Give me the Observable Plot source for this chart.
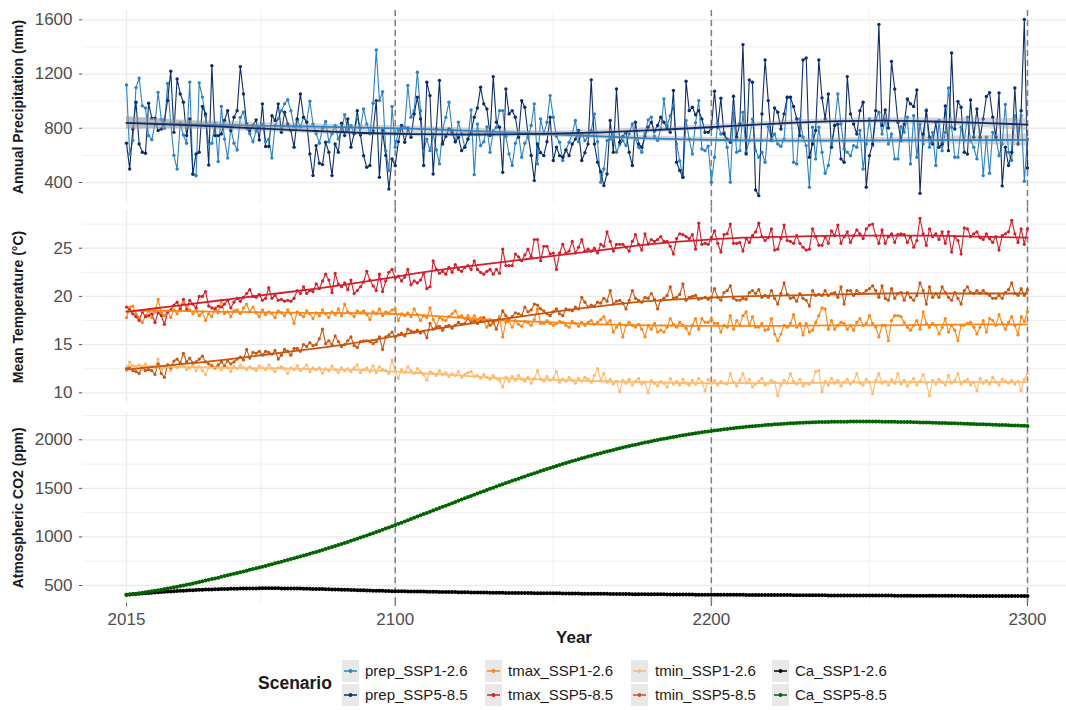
<!DOCTYPE html>
<html><head><meta charset="utf-8">
<script src="https://cdn.jsdelivr.net/npm/d3@7"></script>
<script src="https://cdn.jsdelivr.net/npm/@observablehq/plot@0.6"></script>
<style>
body{margin:0;background:#fff;font-family:"Liberation Sans",Arial,Helvetica,sans-serif;}
#wrap{position:relative;width:1066px;height:710px;overflow:hidden;background:#fff;}
#wrap svg{position:absolute;left:0;overflow:visible;}
.lab{position:absolute;white-space:nowrap;color:#1a1a1a;}
.key{position:absolute;width:17px;height:22px;background:#e8e8e8;}
</style></head><body><div id="wrap"></div>
<script>
// ---------------- DATA (yearly, 2015-2300) ----------------
const years = d3.range(2015, 2301);

const prep_SSP1 = [
1120,610,710,1100,1170,965,950,745,715,830,
1065,865,800,1130,835,600,500,840,750,690,
1140,460,450,1135,1030,890,680,690,840,555,
960,720,580,800,690,640,880,920,800,760,
700,780,810,830,700,720,580,820,870,930,
980,1010,930,810,860,810,880,850,1000,830,
760,690,800,850,700,760,820,720,780,900,
780,820,760,880,800,943,832,760,984,1378,
1004,1070,635,488,960,660,783,820,807,1115,
881,930,1213,930,635,720,635,758,640,537,
795,880,992,783,700,844,760,660,720,935,
458,832,672,700,810,623,780,807,930,930,
740,610,525,690,758,586,690,734,820,980,
537,869,760,844,1041,881,740,697,562,640,
697,760,857,700,758,709,740,783,906,700,
402,500,709,720,758,623,680,709,672,760,
832,720,660,623,760,862,881,740,709,795,
1016,820,893,967,684,560,439,857,720,610,
840,1004,647,635,667,402,586,837,758,770,
660,402,930,623,635,918,623,709,869,635,
586,623,549,812,721,758,684,667,721,1029,
1029,549,537,869,734,672,365,807,574,807,
623,468,525,684,820,1053,832,647,623,598,
672,660,783,500,684,869,672,869,918,758,
869,684,758,574,574,812,770,881,537,893,
586,832,684,935,660,770,525,857,635,770,
1097,807,586,586,807,709,881,709,660,574,
770,451,734,468,770,734,598,684,975,623,
562,893,780,893,410,720];

const prep_SSP5 = [
690,500,795,992,684,623,616,984,874,874,
783,795,862,1004,1220,770,1164,1053,992,746,
869,463,611,623,960,906,529,1262,746,746,
758,857,930,783,881,930,1255,1053,832,783,
820,862,714,980,665,665,893,857,980,770,
918,832,783,660,869,1053,881,844,611,451,
672,542,532,697,623,451,684,623,837,746,
869,660,760,930,750,598,512,525,780,1004,
439,783,600,352,574,525,700,820,697,800,
734,906,1029,869,525,1139,1041,463,795,1152,
684,740,795,770,700,734,635,660,720,770,
881,950,1102,980,943,746,1181,844,807,475,
1090,906,930,881,734,1004,955,758,600,414,
684,620,598,700,881,562,660,598,586,640,
598,684,720,783,562,620,684,1157,684,549,
480,377,463,857,623,1090,697,740,770,623,
525,844,684,660,740,807,844,780,820,881,
844,800,770,1078,549,488,439,1147,930,955,
900,930,869,770,770,800,1073,807,1021,758,
720,697,1036,734,832,1417,610,1157,1139,345,
303,906,1304,1004,709,950,918,795,906,1029,
1029,960,869,746,1304,1319,586,684,783,1304,
1024,869,1053,660,820,832,574,549,1181,906,
832,758,930,992,365,598,684,930,1565,820,
935,802,1292,1090,844,709,832,1016,980,960,
1083,320,758,930,734,684,844,660,684,965,
635,1356,795,997,955,623,610,1009,734,943,
734,869,1034,1063,881,734,1061,375,660,525,
623,1097,684,930,1602,507];

const tmax_SSP1 = [
17.8,18.9,19.0,18.2,17.8,17.3,18.0,18.5,17.8,18.4,
19.7,18.3,18.0,18.5,17.8,18.6,18.2,18.8,19.4,18.9,
18.6,18.2,18.5,18.0,18.4,17.5,18.2,17.9,18.8,18.3,
19.6,18.2,18.4,17.9,18.5,18.6,18.2,18.8,19.2,18.4,
18.9,18.3,17.9,18.6,18.1,18.4,18.2,17.8,18.5,18.3,
18.0,18.6,18.2,17.2,18.4,18.1,17.9,18.5,18.2,17.7,
18.3,18.0,18.6,18.2,17.8,18.4,18.1,18.7,18.0,19.2,
18.4,18.2,17.9,18.5,18.3,18.5,18.1,17.6,18.4,18.2,
18.7,18.0,18.4,18.3,18.6,18.7,17.5,18.2,18.0,18.3,
17.9,18.7,18.1,17.5,18.0,17.8,18.8,17.6,17.0,17.8,
17.6,17.5,17.9,18.2,18.5,17.9,18.0,17.7,18.0,17.6,
18.0,17.5,17.8,17.4,16.8,17.6,17.2,17.5,17.9,15.8,
17.3,17.4,16.8,17.5,17.1,16.9,17.4,17.3,17.0,17.6,
18.7,17.2,17.2,17.5,17.2,17.0,17.2,17.4,17.3,17.0,
16.8,17.4,17.2,16.9,17.3,17.0,17.3,17.5,17.1,17.3,
17.6,17.9,17.2,17.5,16.3,16.8,17.2,15.8,17.0,17.3,
17.0,16.8,17.1,16.6,15.8,17.0,16.6,17.2,16.3,16.5,
16.3,16.8,17.7,17.1,16.8,17.3,17.0,16.7,16.1,17.0,
17.7,16.6,17.7,17.3,17.3,17.7,17.2,17.2,16.3,17.0,
16.8,18.0,16.6,17.5,17.0,18.0,18.4,17.0,17.9,16.8,
16.8,17.2,16.5,16.6,17.7,16.1,15.4,16.1,17.0,16.8,
17.2,18.1,16.8,17.2,16.0,17.2,16.3,16.5,17.3,18.0,
18.8,18.7,16.6,17.5,16.6,17.0,17.3,17.2,16.6,17.0,
16.5,17.3,17.7,17.0,17.2,18.0,17.2,16.8,15.8,17.0,
17.0,15.4,17.5,18.0,18.0,17.9,17.3,16.8,16.5,17.0,
17.5,16.6,18.4,17.2,16.8,17.2,17.0,16.1,16.8,17.7,
16.3,17.0,16.5,15.4,17.0,17.0,17.2,17.3,16.8,16.1,
16.8,17.5,16.3,17.7,17.5,17.0,18.1,17.2,16.6,17.3,
17.9,17.0,16.0,17.9,17.4,18.4];

const tmax_SSP5 = [
18.9,18.6,18.2,17.9,17.5,18.4,17.9,18.0,18.2,17.3,
18.3,18.0,17.1,18.4,18.6,19.1,19.4,18.7,19.7,18.6,
19.6,19.2,18.8,20.0,20.0,20.5,19.0,18.8,18.7,19.0,
18.9,19.2,19.6,18.8,19.4,19.8,19.5,19.9,20.3,20.7,
20.0,19.9,20.2,19.6,19.8,20.9,19.8,20.1,19.6,19.7,
19.5,19.6,19.5,19.8,20.6,20.3,21.0,20.3,20.6,20.5,
21.3,20.8,21.6,22.3,21.7,20.4,22.4,21.3,21.0,21.4,
20.7,21.7,20.3,20.6,21.0,21.5,22.6,21.7,21.1,20.6,
22.3,20.5,21.6,22.5,22.8,21.9,22.1,21.6,22.0,22.8,
21.2,21.6,21.4,21.7,22.4,20.8,21.0,23.7,22.8,22.4,
22.6,22.3,23.0,22.5,23.3,22.8,22.6,23.0,23.2,22.8,
23.7,22.8,22.5,22.3,22.6,22.8,22.3,22.8,22.4,24.9,
23.2,23.2,23.2,24.4,24.1,23.7,24.3,24.9,24.1,25.9,
25.9,23.7,25.2,25.2,24.4,24.5,22.8,24.5,25.4,24.5,
24.7,25.7,24.5,25.1,25.9,24.7,24.9,24.7,25.0,24.5,
25.4,25.2,26.7,25.7,24.7,25.4,25.4,25.4,25.1,24.7,
25.7,26.4,25.4,24.8,26.5,25.4,25.9,25.7,25.9,26.2,
25.7,25.7,25.2,24.4,26.0,26.5,26.4,26.2,26.0,26.4,
24.9,27.6,25.4,25.5,25.4,26.1,26.8,25.5,24.6,26.4,
26.5,27.5,25.5,25.5,25.6,24.7,26.0,25.6,26.3,26.7,
27.6,26.2,25.8,26.1,27.0,24.8,24.9,26.0,27.4,25.8,
25.7,25.5,26.3,25.5,25.1,24.8,24.9,27.0,26.2,25.3,
25.3,26.2,25.5,26.8,26.3,27.4,25.5,26.2,26.7,25.6,
26.3,26.9,26.5,26.0,27.0,27.4,27.5,26.3,25.5,26.9,
25.5,26.2,26.5,25.6,26.4,26.5,26.4,25.6,26.2,25.1,
25.8,28.1,26.5,25.3,27.0,26.2,26.5,25.9,26.7,25.5,
26.7,24.6,26.2,25.8,24.4,27.1,27.0,26.2,26.5,26.7,
26.1,25.9,26.5,26.0,25.6,26.2,24.8,26.3,26.5,26.7,
27.9,26.5,25.6,27.0,25.4,27.0];

const tmin_SSP1 = [
12.3,13.2,12.8,12.6,12.9,12.4,13.0,12.5,12.7,12.6,
13.5,12.4,12.6,12.9,12.3,12.8,12.6,13.0,12.8,12.4,
12.6,12.9,12.3,12.7,12.3,11.9,12.6,12.9,12.5,12.8,
12.4,12.9,12.6,12.2,12.8,12.5,12.9,12.6,12.4,12.7,
12.5,12.3,12.8,12.6,12.4,12.9,12.5,12.2,12.6,12.7,
12.5,12.0,12.6,12.4,12.8,12.3,12.5,12.9,12.2,12.6,
12.4,12.6,12.0,12.5,12.3,12.8,12.4,12.1,12.6,12.3,
12.5,12.2,12.6,12.9,12.1,12.4,12.6,12.2,12.8,12.1,
12.7,12.4,12.3,12.0,13.4,12.3,11.5,12.4,12.1,12.7,
12.3,12.0,12.5,12.2,11.9,11.3,12.2,12.0,11.8,12.3,
11.9,12.1,11.7,12.0,11.8,12.2,11.6,11.9,12.1,12.2,
11.7,11.8,11.5,11.9,11.6,11.4,11.8,11.5,11.3,10.6,
11.6,11.2,11.7,11.3,11.8,11.4,11.2,11.6,11.0,11.5,
12.3,11.4,11.2,11.7,11.3,11.5,12.2,11.1,11.4,11.2,
11.6,11.3,11.0,11.5,11.2,11.6,11.4,11.1,11.8,12.5,
11.3,12.0,11.1,11.4,10.9,11.2,10.1,11.3,11.0,11.4,
10.8,11.2,11.5,10.9,11.1,10.0,11.3,11.0,10.7,11.2,
11.0,10.6,11.5,10.9,11.2,10.8,11.4,11.0,10.8,11.3,
10.9,11.5,11.1,10.2,11.4,11.0,11.3,10.8,11.2,11.0,
10.9,12.0,11.1,10.7,11.3,12.0,11.0,11.4,10.6,10.9,
11.2,11.5,10.8,11.0,11.3,11.1,9.7,10.8,11.3,11.0,
12.0,11.2,10.9,11.4,10.7,11.0,10.9,11.2,12.2,12.3,
10.1,11.2,10.8,11.5,11.0,11.3,10.7,11.1,11.4,10.9,
11.2,12.0,11.0,10.8,11.4,11.1,9.9,11.3,12.0,11.0,
11.2,10.8,11.4,11.0,12.0,10.9,11.3,10.7,11.1,11.5,
10.8,11.2,11.9,11.0,9.7,11.3,10.9,11.4,11.1,10.8,
11.8,11.0,11.3,12.0,10.9,11.2,11.4,10.8,11.1,10.2,
11.5,11.0,11.3,10.9,11.6,11.1,10.8,11.4,11.2,11.0,
11.3,10.9,11.2,10.2,11.4,12.0];

const tmin_SSP5 = [
12.5,12.6,12.3,12.2,12.0,12.7,12.3,12.4,12.3,11.9,
13.0,12.0,11.6,12.9,12.6,13.3,13.5,13.1,14.1,13.2,
13.6,13.1,13.2,13.5,13.8,13.2,13.0,12.8,12.6,12.9,
13.2,12.8,13.3,13.0,13.2,13.5,13.7,13.4,14.5,13.6,
14.2,14.1,14.3,13.9,14.3,14.2,14.0,14.4,13.5,13.9,
14.5,14.3,13.9,14.6,14.6,14.3,15.0,14.8,15.2,14.9,
15.0,15.6,16.6,15.1,15.4,15.0,15.9,15.3,14.8,15.0,
15.4,15.8,14.9,14.7,15.3,15.4,15.4,15.3,15.1,15.3,
15.8,14.5,15.8,16.0,16.3,15.8,16.0,16.2,15.9,16.6,
16.4,16.3,16.5,16.2,16.4,15.7,17.2,16.6,16.8,16.9,
16.5,16.9,17.0,16.7,17.0,17.3,17.1,17.2,17.7,17.3,
17.5,17.2,17.4,17.8,17.5,17.0,17.4,16.6,17.6,18.5,
18.0,17.7,17.9,18.3,18.2,18.0,18.9,18.4,18.6,19.2,
19.1,18.7,18.5,18.2,18.0,18.4,18.7,18.2,18.0,18.7,
18.6,18.5,18.9,18.7,19.9,19.4,18.9,19.1,19.0,19.4,
19.3,19.8,19.5,20.6,19.2,19.5,19.6,19.3,18.7,19.6,
20.6,19.8,19.6,19.4,19.9,19.8,20.3,19.7,18.7,19.6,
19.8,20.1,21.0,19.8,19.9,20.2,21.3,19.6,19.9,20.0,
20.1,19.7,19.8,19.9,19.7,19.9,20.8,19.9,19.6,20.4,
20.6,21.1,19.8,19.6,19.6,19.8,19.7,20.4,20.6,20.3,
20.7,19.9,20.1,19.9,20.6,19.8,19.2,20.3,21.4,20.2,
19.8,19.9,19.5,20.3,19.8,19.6,19.0,20.6,20.1,20.2,
20.1,20.6,20.1,20.3,20.4,19.9,21.0,19.2,20.6,20.6,
20.1,20.6,20.3,20.3,20.6,20.8,21.1,20.6,19.9,21.1,
19.8,19.6,20.8,19.8,20.3,20.4,19.6,20.4,19.9,19.6,
20.1,21.4,20.6,19.2,21.0,19.9,20.3,19.9,21.0,20.4,
19.9,19.6,20.4,19.8,19.2,20.6,21.0,20.4,20.3,20.6,
20.3,20.6,20.3,20.1,19.8,19.8,20.1,19.8,20.4,20.7,
21.4,20.3,20.1,20.8,20.1,20.7];

const Ca_SSP1 = [
404,407,410,413,416,418,421,423,426,428,
431,433,435,437,439,441,443,445,447,449,
450,452,453,455,456,458,459,460,461,462,
463,464,465,466,467,467,468,469,469,470,
470,470,471,471,471,471,471,471,471,470,
470,470,469,469,468,468,467,466,466,465,
464,463,463,462,461,460,459,458,457,456,
455,454,453,452,451,450,449,448,447,446,
446,445,444,443,442,441,441,440,440,439,
439,438,438,437,437,436,436,435,435,434,
434,433,433,432,432,431,431,430,430,429,
429,428,428,427,427,426,426,425,425,425,
424,424,424,423,423,423,422,422,422,421,
421,421,420,420,420,419,419,419,418,418,
418,417,417,417,416,416,416,415,415,415,
414,414,414,413,413,413,412,412,412,412,
411,411,411,410,410,410,410,409,409,409,
409,408,408,408,408,407,407,407,407,407,
406,406,406,406,406,405,405,405,405,405,
404,404,404,404,404,404,403,403,403,403,
403,402,402,402,402,402,401,401,401,401,
401,400,400,400,400,400,399,399,399,399,
399,399,398,398,398,398,398,398,397,397,
397,397,397,397,397,396,396,396,396,396,
396,396,396,395,395,395,395,395,395,395,
395,395,394,394,394,394,394,394,394,394,
394,394,394,394,394,394,393,393,393,393,
393,393,393,393,393,393,393,393,393,393,
393,393,393,393,393,393];

const Ca_SSP5 = [
404,408,412,416,421,426,431,436,441,446,
451,457,463,469,475,481,487,494,500,507,
514,521,528,536,543,551,558,566,573,581,
589,597,605,613,621,629,637,645,653,661,
669,677,685,694,702,711,719,728,737,745,
754,763,772,781,790,799,808,817,827,836,
846,856,866,876,886,896,906,917,927,938,
949,960,971,982,993,1004,1015,1027,1038,1050,
1062,1074,1086,1098,1110,1122,1135,1147,1160,1172,
1185,1197,1210,1222,1235,1247,1260,1272,1285,1297,
1310,1322,1335,1347,1360,1372,1385,1397,1410,1422,
1435,1447,1459,1471,1483,1495,1507,1519,1531,1543,
1555,1566,1578,1589,1600,1612,1623,1634,1645,1656,
1667,1678,1689,1699,1710,1720,1731,1741,1751,1761,
1771,1781,1790,1800,1809,1818,1827,1836,1845,1854,
1862,1871,1879,1888,1896,1904,1912,1920,1928,1935,
1943,1950,1957,1964,1971,1978,1985,1992,1998,2005,
2011,2017,2023,2029,2035,2041,2046,2052,2057,2062,
2067,2072,2077,2082,2086,2091,2095,2099,2104,2108,
2112,2115,2119,2123,2126,2130,2133,2136,2139,2142,
2145,2148,2151,2154,2156,2159,2161,2163,2166,2168,
2170,2171,2173,2175,2176,2178,2179,2180,2181,2182,
2183,2184,2184,2185,2185,2186,2186,2186,2186,2187,
2187,2187,2187,2187,2187,2187,2187,2187,2187,2186,
2186,2186,2185,2185,2184,2184,2183,2182,2182,2181,
2180,2179,2178,2178,2177,2176,2175,2174,2173,2172,
2171,2170,2169,2168,2167,2165,2164,2163,2162,2161,
2160,2159,2158,2157,2155,2154,2153,2152,2151,2150,
2148,2147,2146,2145,2144,2142];

// smoothed (loess) trend values
const trendYears = [2015,2030,2045,2060,2075,2090,2105,2120,2135,2150,2165,2180,2195,2210,2225,2240,2255,2270,2285,2300];
const trend_prep_SSP1 = [838,832,825,818,812,805,797,785,770,755,740,726,716,711,709,709,710,712,713,714];
const trend_prep_SSP5 = [840,827,812,795,780,765,757,754,755,760,770,785,802,822,840,852,856,850,840,827];
const band_prep = [46,33,26,22,20,19,19,19,19,19,19,19,19,19,19,20,22,26,33,46];
const trend_tmax_SSP1 = [18.5,18.5,18.4,18.35,18.3,18.25,18.1,17.8,17.5,17.3,17.1,17.0,16.95,16.95,16.95,17.0,17.0,17.05,17.1,17.1];
const trend_tmax_SSP5 = [18.4,19.0,19.6,20.2,20.8,21.5,22.3,23.0,23.6,24.2,24.8,25.4,25.8,26.1,26.2,26.3,26.3,26.3,26.2,26.1];
const trend_tmin_SSP1 = [12.8,12.7,12.6,12.55,12.45,12.35,12.1,11.8,11.5,11.35,11.2,11.1,11.0,11.0,11.0,11.05,11.1,11.1,11.1,11.1];
const trend_tmin_SSP5 = [12.4,12.9,13.4,14.0,14.6,15.3,16.2,17.0,17.7,18.4,19.0,19.5,19.8,20.0,20.1,20.2,20.3,20.3,20.3,20.3];

const scenarioKeys = ["prep_SSP1-2.6","prep_SSP5-8.5","tmax_SSP1-2.6","tmax_SSP5-8.5","tmin_SSP1-2.6","tmin_SSP5-8.5","Ca_SSP1-2.6","Ca_SSP5-8.5"];
const scenarioColors = ["#2b83c6","#0c2d6b","#ff8515","#d41f2a","#ffba6e","#c8550f","#000000","#006400"];

const xTicks = [2015,2100,2200,2300];
const xMinorTicks = [2057.5,2150,2250];
const dashedYears = [2100,2200,2300];

// ---------------- DRAWING ----------------
const FONT = "'Liberation Sans', Arial, Helvetica, sans-serif";
const colorOf = k => scenarioColors[scenarioKeys.indexOf(k)];
const rowsOf = (vals, key) => vals.map((v, i) => ({year: years[i], value: v, key}));
const trendRows = (vals, key, band) => vals.map((v, i) => ({year: trendYears[i], value: v, lo: band ? v - band[i] : v, hi: band ? v + band[i] : v, key}));

function panel(cfg) {
  const marks = [
    Plot.ruleX(xMinorTicks, {stroke: "#ececec", strokeWidth: 0.8}),
    Plot.ruleX(xTicks, {stroke: "#ebebeb", strokeWidth: 1.3}),
    Plot.ruleY(cfg.yMinor, {stroke: "#ececec", strokeWidth: 0.8}),
    Plot.ruleY(cfg.yMajor, {stroke: "#ebebeb", strokeWidth: 1.3}),
    Plot.ruleX(dashedYears, {stroke: "#7f7f7f", strokeWidth: 1.5, strokeDasharray: "6,4", insetTop: cfg.dashTop, insetBottom: cfg.dashBottom})
  ];
  const data = cfg.series.map(s => rowsOf(s.values, s.key));
  data.forEach((rows, i) => marks.push(Plot.line(rows, {x: "year", y: "value", stroke: colorOf(cfg.series[i].key), strokeWidth: cfg.lw})));
  data.forEach((rows, i) => marks.push(Plot.dot(rows, {x: "year", y: "value", fill: colorOf(cfg.series[i].key), r: cfg.r})));
  (cfg.trends || []).forEach(t => {
    const tr = trendRows(t.values, t.key, t.band);
    if (t.band) marks.push(Plot.areaY(tr, {x: "year", y1: "lo", y2: "hi", fill: "#999999", fillOpacity: 0.4, curve: "natural"}));
    marks.push(Plot.line(tr, {x: "year", y: "value", stroke: colorOf(t.key), strokeWidth: 1.8, curve: "natural"}));
  });
  marks.push(Plot.axisY({ticks: cfg.yMajor, tickFormat: d => String(d), tickSize: 3, tickPadding: 7, fontSize: 17, color: "#4d4d4d", label: null}));
  marks.push(Plot.text([cfg.title], {text: d => d, frameAnchor: "left", dx: -64, rotate: -90, textAnchor: "middle", lineAnchor: "middle", fontSize: 14, fontWeight: "bold", fill: "#1a1a1a"}));
  if (cfg.xAxis) {
    marks.push(Plot.axisX({ticks: xTicks, tickFormat: d => String(d), tickSize: 3, tickPadding: 6, fontSize: 17, color: "#4d4d4d", label: null}));
  }
  const svg = Plot.plot({
    width: 1066, height: cfg.height,
    marginLeft: 82, marginRight: 0, marginTop: cfg.mt, marginBottom: cfg.mb,
    style: {fontFamily: FONT, background: "transparent", overflow: "visible"},
    x: {domain: [2001.08, 2312.34], axis: null},
    y: {domain: cfg.yDomain, axis: null},
    marks
  });
  svg.style.top = cfg.top + "px";
  return svg;
}

const wrap = document.getElementById("wrap");

wrap.appendChild(panel({
  top: 0, height: 206, mt: 10, mb: 3, dashTop: 0, dashBottom: -3.5,
  yDomain: [245.1, 1668.6], yMajor: [400, 800, 1200, 1600], yMinor: [600, 1000, 1400],
  title: "Annual Precipitation (mm)", lw: 1.1, r: 1.7,
  series: [{key: "prep_SSP1-2.6", values: prep_SSP1}, {key: "prep_SSP5-8.5", values: prep_SSP5}],
  trends: [{key: "prep_SSP1-2.6", values: trend_prep_SSP1, band: band_prep}, {key: "prep_SSP5-8.5", values: trend_prep_SSP5, band: band_prep}]
}));

wrap.appendChild(panel({
  top: 206, height: 200, mt: 4, mb: 3, dashTop: -3.5, dashBottom: -4,
  yDomain: [8.89, 28.91], yMajor: [10, 15, 20, 25], yMinor: [12.5, 17.5, 22.5, 27.5],
  title: "Mean Temperature (°C)", lw: 1.1, r: 1.6,
  series: [{key: "tmax_SSP1-2.6", values: tmax_SSP1}, {key: "tmax_SSP5-8.5", values: tmax_SSP5},
           {key: "tmin_SSP1-2.6", values: tmin_SSP1}, {key: "tmin_SSP5-8.5", values: tmin_SSP5}],
  trends: [{key: "tmax_SSP1-2.6", values: trend_tmax_SSP1}, {key: "tmax_SSP5-8.5", values: trend_tmax_SSP5},
           {key: "tmin_SSP1-2.6", values: trend_tmin_SSP1}, {key: "tmin_SSP5-8.5", values: trend_tmin_SSP5}]
}));

wrap.appendChild(panel({
  top: 406, height: 244, mt: 5.7, mb: 47, dashTop: -4.5, dashBottom: 0,
  yDomain: [314.7, 2284], yMajor: [500, 1000, 1500, 2000], yMinor: [750, 1250, 1750, 2250],
  title: "Atmospheric CO2 (ppm)", lw: 1.3, r: 2.0, xAxis: true,
  series: [{key: "Ca_SSP1-2.6", values: Ca_SSP1}, {key: "Ca_SSP5-8.5", values: Ca_SSP5}]
}));

// axis title
const yearLab = document.createElement("div");
yearLab.className = "lab";
yearLab.style.cssText = "left:474px;width:200px;text-align:center;top:628px;font-size:17px;font-weight:bold;line-height:20px;";
yearLab.textContent = "Year";
wrap.appendChild(yearLab);

// legend
const legTitle = document.createElement("div");
legTitle.className = "lab";
legTitle.style.cssText = "left:258px;top:672px;font-size:17.5px;font-weight:bold;line-height:22px;";
legTitle.textContent = "Scenario";
wrap.appendChild(legTitle);

const colKeyX = [342, 485, 631, 772];
const colTextX = [365, 508, 655, 795];
const rowTop = [660, 684];
scenarioKeys.forEach((k, i) => {
  const col = Math.floor(i / 2), row = i % 2;
  const key = document.createElement("div");
  key.className = "key";
  key.style.left = colKeyX[col] + "px";
  key.style.top = rowTop[row] + "px";
  const c = colorOf(k);
  key.innerHTML = `<svg width="17" height="22" style="position:static"><line x1="2" x2="15" y1="11" y2="11" stroke="${c}" stroke-width="1.5"/><circle cx="8.5" cy="11" r="1.9" fill="${c}"/></svg>`;
  wrap.appendChild(key);
  const t = document.createElement("div");
  t.className = "lab";
  t.style.cssText = `left:${colTextX[col]}px;top:${rowTop[row]}px;font-size:15px;line-height:22px;`;
  t.textContent = k;
  wrap.appendChild(t);
});
</script></body></html>
